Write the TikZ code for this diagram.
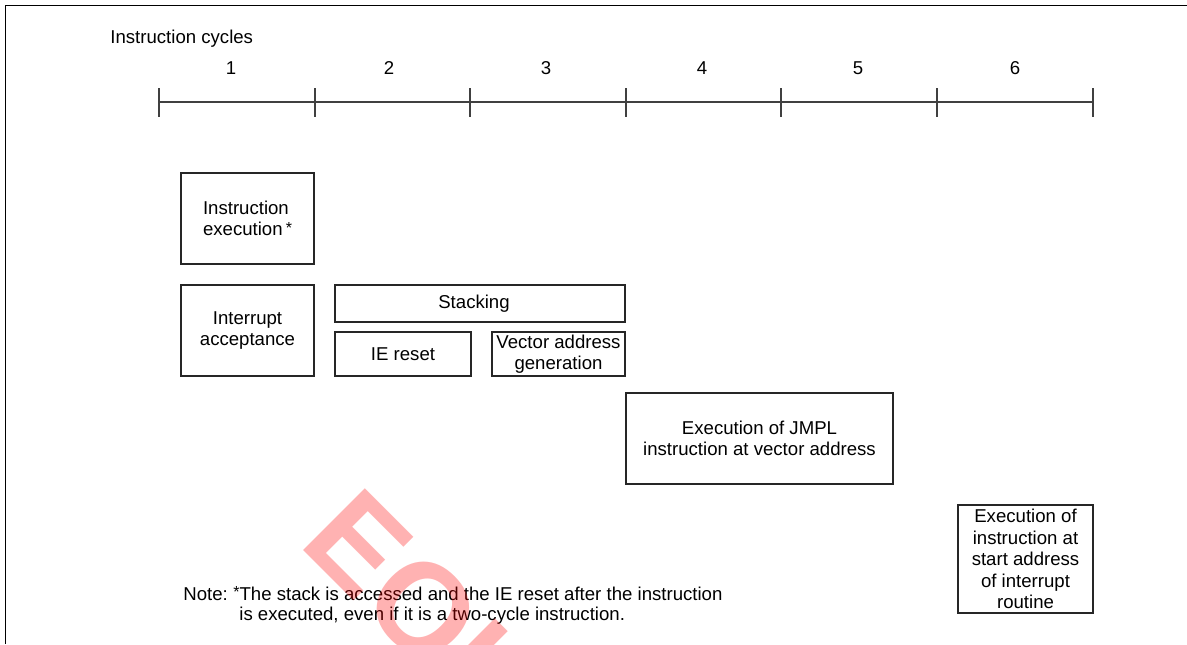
\documentclass[tikz,border=0pt]{standalone}
\usepackage{fontspec}
\setmainfont{Liberation Sans}
\newcommand{\smallast}{\raisebox{1.3pt}{\fontsize{8}{8}\selectfont*}}
\begin{document}
\begin{tikzpicture}[x=0.5pt,y=-0.5pt,
  txt/.style={font=\fontsize{9.3}{10.75}\selectfont, inner sep=0pt, text=black},
  box/.style={draw=black!85, line width=0.8pt, align=center, inner sep=0pt,
    font=\fontsize{9.3}{10.75}\selectfont},
  axisline/.style={draw=black!75, line width=0.75pt},
  frameline/.style={draw=black, line width=0.75pt},
  wmark/.style={anchor=base west, rotate=-45, inner sep=0pt, text=red, text opacity=0.3,
    font=\fontsize{63.5}{70}\selectfont\bfseries}
]
\useasboundingbox (0,0) rectangle (1187,644);
% frame
\coordinate (fbl) at (5.5,644);
\coordinate (ftl) at (5.5,5.5);
\coordinate (ftr) at (1187,5.5);
\draw[frameline] (fbl) -- (ftl) -- (ftr);
% title and cycle numbers
\node[txt, anchor=base west] (title) at (110,43) {Instruction cycles};
\foreach \n/\x in {1/231,2/389,3/546,4/702,5/858,6/1015}
  \node[txt] (num\n) at (\x,68) {\n};
% time axis
\foreach \i/\x in {0/159,1/315,2/470,3/626,4/781,5/937,6/1093}
  \coordinate (t\i) at (\x,102);
\draw[axisline] (t0) -- (t6);
\foreach \i in {0,...,6}
  \draw[axisline] ([yshift=7pt]t\i) -- ([yshift=-7.5pt]t\i);
% boxes
\node[box, align=left, minimum width=66.5pt, minimum height=45.5pt] (exec) at (247.5,218.5) {Instruction\\execution\,\smallast\hspace{5pt}};
\node[box, minimum width=66.5pt, minimum height=45.5pt] (intacc) at (247.5,330.5) {Interrupt\\acceptance};
\node[box, minimum width=145pt, minimum height=18.5pt] (stack) at (480,303.5) {Stacking\hspace{6pt}};
\node[box, minimum width=68pt, minimum height=22pt] (iereset) at (403,354) {IE reset};
\node[box, minimum width=66.5pt, minimum height=22pt] (vector) at (558.5,354) {Vector address\\generation};
\node[box, minimum width=133.5pt, minimum height=45.5pt] (jmpl) at (759.5,438.5) {Execution of JMPL\\instruction at vector address};
\node[box, minimum width=67.5pt, minimum height=54pt] (start) at (1025.5,559) {Execution of\\instruction at\\start address\\of interrupt\\routine};
% note
\node[txt, anchor=base west] (notelabel) at (183,600) {Note:};
\node[txt, anchor=base west] (note1) at (233,600) {\smallast The stack is accessed and the IE reset after the instruction};
\node[txt, anchor=base west] (note2) at (239,620) {is executed, even if it is a two-cycle instruction.};
% watermark
\node[wmark] (wm) at (297,544) {EOL};
\end{tikzpicture}
\end{document}
